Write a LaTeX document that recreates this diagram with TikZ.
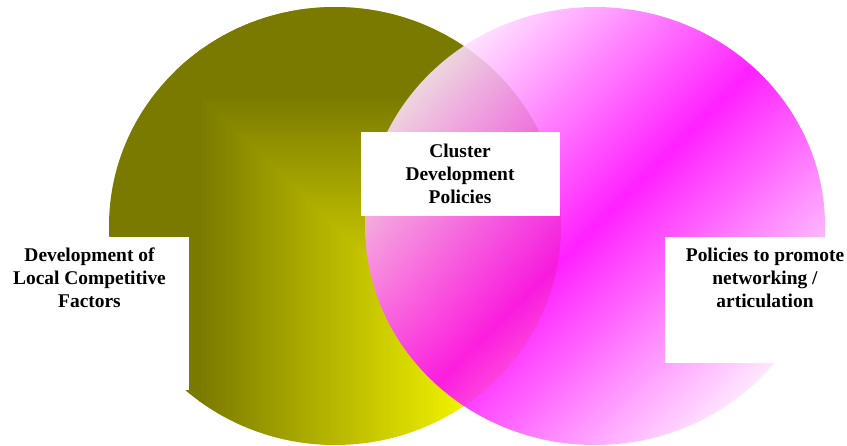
\documentclass[tikz,border=0pt]{standalone}
\usepackage{fontspec}
\setmainfont{Liberation Serif}
\definecolor{olivedark}{RGB}{122,122,0}
\definecolor{oliveyellow}{RGB}{245,245,0}
\definecolor{pinklight}{RGB}{255,226,255}
\definecolor{mymagenta}{RGB}{255,0,255}

\begin{document}
\begin{tikzpicture}[x=1bp,y=-1bp,
    every node/.style={align=center,inner sep=0pt,font=\fontsize{19.5}{23}\selectfont\bfseries},
    boxfill/.style={fill=white},
    pinkdisc/.style={opacity=0.87,top color=pinklight,bottom color=pinklight,middle color=mymagenta,shading angle=45}
    ]
    \useasboundingbox (0,0) rectangle (847,446);

    % the left circle, lower left half
    \begin{scope}
    \clip (335,226) ellipse [x radius=226,y radius=219];
    \fill[olivedark] (109,7) rectangle (200,445);
    \shade[left color=olivedark,right color=oliveyellow] (199,7) rectangle (471,445);
    \fill[oliveyellow] (470,7) rectangle (561,445);
    \end{scope}
    % the left circle, upper right half
    \begin{scope}
    \clip (335,226) ellipse [x radius=226,y radius=219];
    \clip (109,7) -- (561,7) -- (561,445) -- cycle;
    \fill[olivedark] (109,7) rectangle (561,96);
    \shade[top color=olivedark,bottom color=oliveyellow] (109,95) rectangle (561,358);
    \fill[oliveyellow] (109,357) rectangle (561,445);
    \end{scope}

    % the right circle
    \shade[pinkdisc] (595,226) ellipse [x radius=230,y radius=219];

    % the white boxes
    \fill[boxfill] (0,237) rectangle (189,390);
    \fill[boxfill] (361,132) rectangle (560,216);
    \fill[boxfill] (665,237) rectangle (847,363);

    % the labels
    \node (local) at (89.5,278) {Development of\\Local Competitive\\Factors};
    \node (cluster) at (460,174) {Cluster\\Development\\Policies};
    \node (network) at (765,278) {Policies to promote\\networking /\\articulation};
\end{tikzpicture}
\end{document}
